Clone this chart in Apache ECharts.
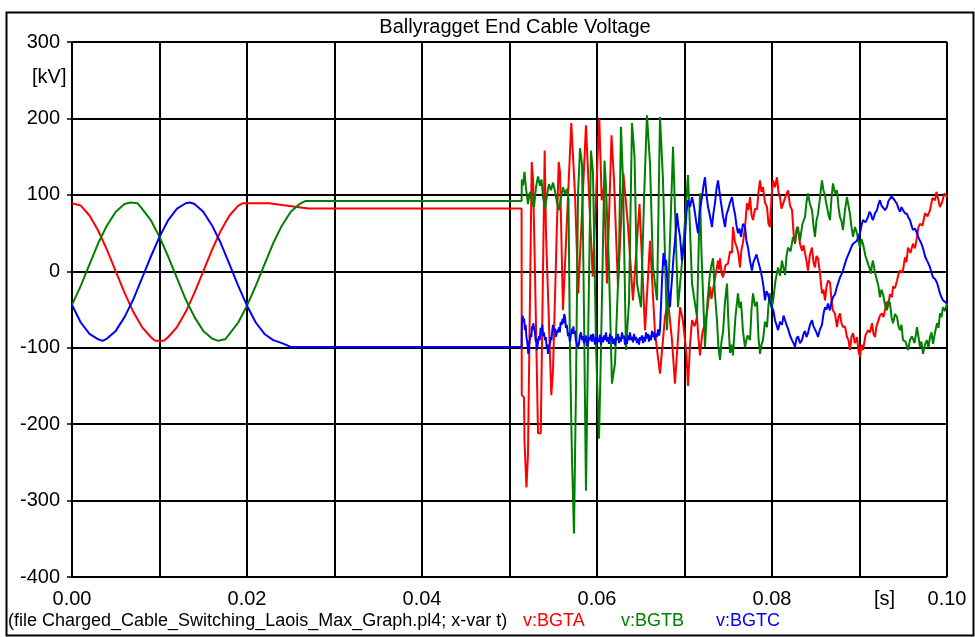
<!DOCTYPE html>
<html>
<head>
<meta charset="utf-8">
<script src="https://cdn.jsdelivr.net/npm/echarts@6/dist/echarts.min.js"></script>
<style>html,body{margin:0;padding:0;background:#fff}#c{width:975px;height:637px}</style>
</head>
<body>
<div id="c"></div>
<script>
// time in milliseconds, voltage in kV
const xTickLabels = ['0.00','0.02','0.04','0.06','0.08','0.10'];
const yTicks = [-400,-300,-200,-100,0,100,200,300];
const seriesNames = ['v:BGTA','v:BGTB','v:BGTC'];

const bgtaData = [[0,89],[1,86],[2,73],[3,53],[4,28],[5,0],[6,-28],[7,-53],[8,-73],[9,-86],[9.5,-91],[10.5,-91],[11,-86],[12,-73],[13,-53],[14,-28],[15,0],[16,28],[17,53],[18,73],[19,86],[19.5,89],[22.5,89],[27,82],[51.38,82],
[51.40,-162],[51.66,-165],[51.71,-221],[51.89,-221],[51.94,-283],[52.11,-240],[52.54,143],[52.69,120],[52.91,0],[53.26,-212],[53.57,-212],[54.02,158],[54.17,50],[54.78,-162],[54.97,-130],[55.62,143],[55.77,130],[56.11,-51],[57.06,194],[57.49,100],[57.86,-29],[58.74,191],[59.09,100],[59.51,-7],[60.26,200],[60.54,93],[60.80,110],[61.14,-16],[61.66,178],[61.94,120],[62.40,-20],[63.01,128],[63.54,60],[64.11,-38],[64.86,88],[65.49,-77],[66.06,40],[66.63,-81],[67.20,-134],[67.77,-60],[68.11,-38],[68.57,-90],[68.91,-147],
[69.49,-47],[69.78,-62],[70.06,-90],[70.23,-110],[70.40,-150],[70.63,-96],[70.86,-64],[71.15,-72],[71.43,-60],[71.60,-88],[71.77,-110],[72.05,-80],[72.34,-68],[72.62,-50],[72.91,-20],[73.08,-36],[73.26,-34],[73.55,-5],[73.83,14],[73.95,2],[74.06,17],[74.23,-2],[74.40,-8],[74.69,8],[74.97,10],[75.20,26],[75.43,24],[75.54,58],[75.77,38],[76.00,31],[76.17,22],[76.34,5],[76.51,28],[76.69,38],[76.92,58],[77.14,89],[77.31,80],[77.49,97],[77.66,74],[77.83,67],[78.06,82],[78.29,81],[78.46,104],[78.63,119],[78.80,104],[78.97,110],[79.20,90],[79.43,84],[79.60,62],[79.77,58],[79.94,96],[80.11,119],[80.34,110],[80.57,123],[80.74,104],[80.91,97],[81.08,82],[81.26,80],[81.55,98],[81.83,106],[82.06,86],[82.29,80],[82.46,50],[82.63,36],[82.80,54],[82.97,58],[83.20,36],[83.43,27],[83.60,34],[83.77,24],[83.94,14],[84.11,1],[84.34,22],[84.57,31],[84.74,12],[84.91,5],[85.08,20],[85.26,17],[85.48,-2],[85.71,-29],[85.88,-24],[86.06,-38],[86.23,-20],[86.40,-12],[86.63,-15],[86.80,-38],[86.97,-51],[87.20,-56],[87.43,-73],[87.60,-60],[87.77,-55],[87.94,-68],[88.11,-73],[88.34,-72],[88.57,-86],[88.74,-90],[88.91,-103],[89.08,-86],[89.26,-81],[89.48,-94],[89.71,-86],[89.88,-104],[90.06,-112],[90.23,-96],[90.40,-103],[90.68,-84],[90.97,-77],[91.20,-80],[91.43,-68],[91.60,-82],[91.77,-86],[91.94,-72],[92.11,-73],[92.34,-58],[92.57,-55],[92.74,-60],[92.91,-51],[93.08,-40],[93.26,-47],[93.48,-30],[93.71,-34],[93.83,-20],[94.06,-22],[94.29,-12],[94.46,-4],[94.63,1],[94.92,-2],[95.20,18],[95.37,12],[95.54,31],[95.82,24],[96.11,36],[96.34,30],[96.57,45],[96.74,58],[96.91,62],[97.20,60],[97.49,76],[97.78,72],[98.06,80],[98.34,96],[98.63,93],[98.80,104],[98.97,102],[99.20,84],[99.43,90],[99.70,102],[100,97]];

const bgtbData = [[0,-44],[1,-19],[2,9],[3,37],[4,60],[5,78],[6,88],[6.7,90],[7.5,89],[8,82],[9,67],[10,45],[11,19],[12,-9],[13,-37],[14,-60],[15,-78],[16,-88],[16.7,-91],[17.5,-89],[18,-82],[19,-67],[20,-45],[21,-19],[22,9],[23,37],[24,60],[25,78],[26,88],[26.7,92],[51.38,92],
[51.41,120],[51.54,112],[51.71,130],[51.89,108],[52.11,88],[52.34,104],[52.57,92],[52.80,84],[53.03,110],[53.26,124],[53.49,112],[53.66,120],[53.83,97],[54.06,82],[54.29,100],[54.51,114],[54.74,106],[54.97,116],[55.20,105],[55.43,90],[55.66,80],[55.89,97],[56.11,110],[56.34,101],[56.57,108],[56.74,95],[56.91,-100],[57.14,-245],[57.37,-343],[57.60,-150],[57.83,100],[58.06,161],[58.29,140],[58.51,-50],[58.74,-287],[58.97,-100],[59.31,158],[59.54,130],[59.89,-100],[60.23,-219],[60.46,-100],[60.69,40],[60.86,145],[61.03,110],[61.37,5],[61.71,-147],[62.06,-120],[62.51,18],[62.74,189],[62.97,120],[63.31,-103],[63.66,-40],[64.00,194],[64.29,150],[64.57,-16],[65.03,-47],[65.37,93],[65.71,204],[66.06,140],[66.40,5],[66.86,-38],[67.20,202],[67.54,120],[68.00,-77],[68.34,40],[68.69,163],[69.26,-47],[69.83,27],[70.40,126],[70.86,-16],[71.43,-60],[71.77,102],[71.94,24],
[72.34,-99],[72.62,-40],[72.91,-3],[73.08,8],[73.26,17],[73.48,-30],[73.71,-64],[73.88,-100],[74.06,-116],[74.23,-92],[74.40,-80],[74.63,-40],[74.86,-16],[75.03,-70],[75.20,-107],[75.37,-96],[75.54,-110],[75.82,-60],[76.11,-29],[76.28,-48],[76.46,-40],[76.68,-78],[76.91,-99],[77.20,-84],[77.49,-90],[77.66,-50],[77.83,-29],[78.06,-46],[78.29,-40],[78.46,-88],[78.63,-108],[78.80,-96],[78.97,-90],[79.20,-66],[79.43,-73],[79.60,-44],[79.77,-29],[79.94,-48],[80.11,-40],[80.40,-12],[80.69,5],[80.92,-6],[81.14,14],[81.32,4],[81.49,-5],[81.66,20],[81.83,31],[82.12,26],[82.40,45],[82.63,38],[82.86,58],[83.03,50],[83.20,40],[83.48,62],[83.77,71],[83.94,90],[84.11,102],[84.34,88],[84.57,80],[84.74,60],[84.91,45],[85.08,66],[85.26,75],[85.48,96],[85.71,119],[85.88,106],[86.06,100],[86.17,90],[86.29,84],[86.46,74],[86.63,67],[86.80,96],[86.97,115],[87.20,102],[87.43,106],[87.60,84],[87.77,71],[87.94,66],[88.11,54],[88.34,80],[88.57,97],[88.74,86],[88.91,75],[89.08,58],[89.26,45],[89.48,58],[89.71,50],[89.88,40],[90.06,31],[90.23,42],[90.40,36],[90.68,20],[90.97,10],[91.14,4],[91.31,-3],[91.42,8],[91.54,14],[91.77,-2],[92.00,-12],[92.17,-20],[92.34,-34],[92.51,-24],[92.69,-30],[92.92,-44],[93.14,-51],[93.31,-38],[93.49,-42],[93.66,-60],[93.83,-68],[94.06,-56],[94.29,-60],[94.46,-72],[94.63,-77],[94.80,-70],[94.97,-90],[95.26,-92],[95.54,-103],[95.77,-90],[96.00,-85],[96.29,-94],[96.57,-73],[96.74,-86],[96.91,-99],[97.08,-92],[97.26,-108],[97.48,-96],[97.71,-90],[97.88,-100],[98.06,-86],[98.23,-80],[98.40,-95],[98.63,-80],[98.86,-68],[99.03,-74],[99.20,-55],[99.37,-60],[99.54,-47],[99.77,-52],[100,-42]];

const bgtcData = [[0,-44],[1,-67],[2,-82],[3,-89],[3.5,-91],[4,-88],[5,-78],[6,-60],[7,-37],[8,-9],[9,19],[10,45],[11,67],[12,82],[13,89],[13.5,90],[14,88],[15,78],[16,60],[17,37],[18,9],[19,-19],[20,-45],[21,-67],[22,-82],[23,-90],[24,-94],[25,-99],[51.38,-99],
[51.41,-70],[51.50,-58],[51.58,-66],[51.66,-62],[51.77,-77],[51.85,-70],[51.93,-86],[52.00,-90],[52.08,-98],[52.15,-108],[52.24,-96],[52.34,-95],[52.42,-82],[52.50,-86],[52.57,-72],[52.65,-76],[52.72,-68],[52.80,-74],[52.91,-80],[53.00,-92],[53.07,-88],[53.14,-103],[53.25,-94],[53.37,-85],[53.46,-90],[53.56,-74],[53.68,-77],[53.76,-70],[53.83,-85],[53.93,-80],[54.06,-90],[54.15,-86],[54.25,-100],[54.32,-96],[54.40,-108],[54.50,-98],[54.63,-95],[54.72,-86],[54.80,-90],[54.86,-81],[54.96,-70],[55.05,-78],[55.20,-75],[55.30,-86],[55.43,-85],[55.52,-76],[55.60,-80],[55.66,-73],[55.75,-80],[55.85,-66],[55.97,-70],[56.07,-62],[56.18,-68],[56.26,-56],[56.34,-60],[56.45,-74],[56.55,-70],[56.69,-85],[56.78,-80],[56.91,-92],[57.00,-84],[57.14,-75],[57.23,-82],[57.30,-72],[57.37,-82],[57.48,-78],[57.58,-90],[57.68,-88],[57.80,-100],[57.94,-95],[58.04,-84],[58.17,-80],[58.28,-90],[58.40,-85],[58.50,-94],[58.63,-92],[58.75,-84],[58.85,-98],[58.97,-95],[59.08,-86],[59.20,-90],[59.31,-83],[59.42,-92],[59.55,-82],[59.66,-88],[59.77,-96],[59.90,-86],[60.00,-95],[60.12,-88],[60.22,-92],[60.34,-83],[60.45,-96],[60.57,-86],[60.69,-93],[60.80,-84],[60.92,-90],[61.03,-80],[61.14,-92],[61.26,-86],[61.37,-95],[61.48,-82],[61.60,-90],[61.71,-85],[61.82,-95],[61.94,-88],[62.06,-97],[62.17,-86],[62.28,-90],[62.40,-82],[62.51,-94],[62.63,-86],[62.74,-92],[62.86,-80],[62.97,-88],[63.09,-84],[63.20,-96],[63.31,-88],[63.43,-95],[63.54,-84],[63.66,-90],[63.77,-80],[63.89,-90],[64.00,-86],[64.11,-93],[64.23,-82],[64.34,-90],[64.46,-86],[64.57,-94],[64.69,-88],[64.80,-96],[64.91,-86],[65.03,-90],[65.14,-84],[65.26,-94],[65.37,-86],[65.49,-92],[65.60,-80],[65.71,-88],[65.83,-82],[65.94,-92],[66.06,-84],[66.17,-90],[66.29,-78],[66.40,-86],[66.51,-80],[66.63,-90],[66.74,-82],[66.86,-86],[66.97,-76],[67.09,-84],[67.20,-77],
[67.43,-12],[67.60,24],[67.75,8],[67.89,15],[68.00,-4],[68.11,-23],[68.22,-30],[68.34,-47],[68.45,-28],[68.57,-10],[68.74,18],[68.91,40],[69.03,55],[69.14,76],[69.31,58],[69.49,45],[69.60,30],[69.71,14],[69.88,32],[70.06,45],[70.23,78],[70.40,93],[70.63,84],[70.86,97],[71.03,88],[71.20,76],[71.37,62],[71.54,50],[71.77,80],[72.00,97],[72.17,112],[72.34,123],[72.51,100],[72.69,84],[72.92,72],[73.14,58],[73.31,76],[73.49,90],[73.66,108],[73.83,119],[74.00,104],[74.17,90],[74.40,72],[74.63,58],[74.80,74],[74.97,80],[75.20,90],[75.43,97],[75.60,84],[75.77,75],[75.94,60],[76.11,50],[76.28,56],[76.46,45],[76.68,62],[76.91,58],[77.08,40],[77.26,31],[77.48,14],[77.71,1],[77.88,12],[78.06,10],[78.23,22],[78.40,14],[78.63,4],[78.86,-8],[79.03,-20],[79.20,-38],[79.37,-26],[79.54,-30],[79.77,-40],[80.00,-47],[80.17,-52],[80.34,-64],[80.51,-70],[80.69,-77],[80.92,-66],[81.14,-70],[81.32,-58],[81.49,-64],[81.66,-70],[81.83,-75],[82.06,-84],[82.29,-90],[82.46,-94],[82.63,-99],[82.80,-88],[82.97,-85],[83.20,-94],[83.43,-90],[83.60,-82],[83.77,-78],[83.94,-86],[84.11,-81],[84.34,-70],[84.57,-64],[84.74,-72],[84.91,-72],[85.08,-80],[85.26,-86],[85.48,-76],[85.71,-70],[85.88,-56],[86.06,-47],[86.23,-50],[86.40,-42],[86.52,-48],[86.63,-51],[86.80,-40],[86.97,-34],[87.20,-30],[87.43,-20],[87.60,-14],[87.77,-8],[87.94,-4],[88.11,1],[88.34,10],[88.57,18],[88.74,20],[88.91,27],[89.08,32],[89.26,36],[89.48,34],[89.71,40],[89.88,46],[90.06,50],[90.23,60],[90.40,67],[90.68,64],[90.97,71],[91.14,78],[91.31,75],[91.42,70],[91.54,67],[91.77,76],[92.00,80],[92.17,88],[92.34,93],[92.51,86],[92.69,88],[92.92,80],[93.14,84],[93.31,92],[93.49,90],[93.66,98],[93.83,97],[94.06,92],[94.29,88],[94.46,82],[94.63,78],[94.80,84],[94.97,80],[95.20,76],[95.43,75],[95.60,70],[95.77,67],[95.94,60],[96.11,54],[96.34,56],[96.57,50],[96.74,44],[96.91,40],[97.08,36],[97.26,30],[97.48,20],[97.71,14],[97.88,10],[98.06,5],[98.23,-2],[98.40,-8],[98.63,-10],[98.86,-15],[99.03,-22],[99.20,-29],[99.37,-34],[99.54,-38],[99.77,-40],[100,-42]];

const colors = ['#ff0000','#008000','#0000ff'];
const FONT = 'Liberation Sans';

const chart = echarts.init(document.getElementById('c'), null, {renderer:'canvas'});
const makeSeries = (name, data, color) => ({
  name, type:'line', data, showSymbol:false, symbol:'none',
  lineStyle:{color, width:2}, itemStyle:{color}, animation:false
});

chart.setOption({
  animation:false,
  backgroundColor:'#fff',
  title:{text:'Ballyragget End Cable Voltage', left:510, top:12, textAlign:'center',
    textStyle:{fontFamily:FONT, fontSize:20, fontWeight:'normal', color:'#000'}},
  grid:{left:72, top:42, right:28, bottom:60},
  xAxis:{type:'value', min:0, max:100, interval:10,
    axisLine:{show:true, lineStyle:{color:'#000', width:2}},
    axisTick:{show:true, length:5, lineStyle:{color:'#000', width:1.5}},
    axisLabel:{color:'#000', fontFamily:FONT, fontSize:20, margin:12,
      formatter:v => (Math.round(v) % 20 === 0 ? xTickLabels[Math.round(v)/20] : '')},
    splitLine:{show:true, lineStyle:{color:'#000', width:2}}},
  yAxis:{type:'value', min:yTicks[0], max:yTicks[yTicks.length-1], interval:100,
    axisLine:{show:true, lineStyle:{color:'#000', width:2}},
    axisTick:{show:true, length:5, lineStyle:{color:'#000', width:1.5}},
    axisLabel:{color:'#000', fontFamily:FONT, fontSize:20, margin:12},
    splitLine:{show:true, lineStyle:{color:'#000', width:2}}},
  graphic:[
    {type:'rect', left:4, top:10, shape:{width:967, height:623}, style:{fill:'none', stroke:'#000', lineWidth:2}, z:-1, silent:true},
    {type:'text', left:32, top:67, style:{text:'[kV]', fontFamily:FONT, fontSize:20, fill:'#000'}},
    {type:'text', left:874, top:589, style:{text:'[s]', fontFamily:FONT, fontSize:20, fill:'#000'}},
    {type:'text', left:8, top:612, style:{text:'(file Charged_Cable_Switching_Laois_Max_Graph.pl4; x-var t)', fontFamily:FONT, fontSize:18, fill:'#000'}},
    {type:'text', left:523, top:612, style:{text:seriesNames[0], fontFamily:FONT, fontSize:18, fill:colors[0]}},
    {type:'text', left:621, top:612, style:{text:seriesNames[1], fontFamily:FONT, fontSize:18, fill:colors[1]}},
    {type:'text', left:716, top:612, style:{text:seriesNames[2], fontFamily:FONT, fontSize:18, fill:colors[2]}}
  ],
  series:[
    makeSeries(seriesNames[0], bgtaData, colors[0]),
    makeSeries(seriesNames[1], bgtbData, colors[1]),
    makeSeries(seriesNames[2], bgtcData, colors[2])
  ]
});
</script>
</body>
</html>
